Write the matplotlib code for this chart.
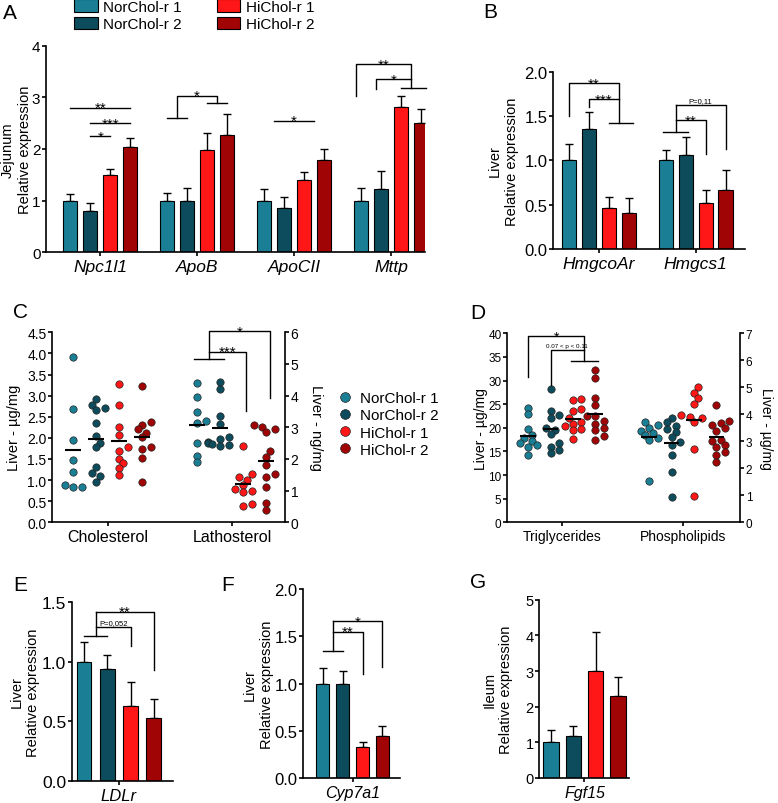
import numpy as np
import matplotlib
matplotlib.use('Agg')
import matplotlib.pyplot as plt
from matplotlib.patches import Patch
from matplotlib.lines import Line2D
from matplotlib.ticker import FormatStrFormatter

plt.rcParams['font.family'] = ['Liberation Sans', 'DejaVu Sans']
plt.rcParams['axes.linewidth'] = 1.2

W, H = 778, 804

groups = ['NorChol-r 1', 'NorChol-r 2', 'HiChol-r 1', 'HiChol-r 2']
colors = ['#1a7f95', '#0d4c5c', '#ff1616', '#a10404']

# A - jejunum, one row per group
genes_a = ['Npc1l1', 'ApoB', 'ApoCII', 'Mttp']
a_mean = [[1.0, 1.0, 1.0, 1.0],
          [0.80, 1.0, 0.85, 1.23],
          [1.50, 1.98, 1.40, 2.82],
          [2.04, 2.28, 1.78, 2.50]]
a_sem = [[0.13, 0.14, 0.22, 0.25],
         [0.15, 0.24, 0.22, 0.35],
         [0.12, 0.33, 0.15, 0.20],
         [0.18, 0.40, 0.22, 0.27]]

# B - liver
genes_b = ['HmgcoAr', 'Hmgcs1']
b_mean = [[1.0, 1.0], [1.35, 1.06], [0.46, 0.52], [0.41, 0.67]]
b_sem = [[0.19, 0.12], [0.19, 0.20], [0.13, 0.15], [0.17, 0.22]]

# C - sterols (cholesterol ug/mg, lathosterol ng/mg)
chol = [[3.92, 2.69, 1.95, 1.48, 1.20, 0.89, 0.83, 0.83],
        [2.92, 2.78, 2.70, 2.67, 2.35, 2.04, 1.88, 1.78, 1.30, 1.17, 1.09, 0.96],
        [3.28, 2.78, 2.25, 2.07, 1.78, 1.70, 1.50, 1.40, 1.28, 1.13],
        [3.24, 2.38, 2.31, 2.21, 2.12, 2.01, 1.78, 1.74, 1.52, 0.96]]
latho = [[4.40, 3.95, 3.48, 3.20, 3.15, 2.50, 2.10, 1.90],
         [4.42, 4.20, 3.35, 3.10, 2.70, 2.62, 2.55, 2.50, 2.48, 2.45, 2.40],
         [2.42, 1.53, 1.42, 1.35, 1.17, 1.05, 1.00, 0.97, 0.57, 0.50],
         [3.07, 3.00, 2.95, 2.85, 2.25, 2.07, 1.80, 1.53, 1.43, 1.12, 0.62, 0.39]]

# D - lipids (ug/mg)
tg = [[24.2, 22.9, 19.8, 18.5, 17.8, 17.2, 16.7, 16.3, 16.0, 14.2],
      [28.2, 23.6, 22.8, 22.0, 20.0, 19.5, 18.6, 16.8, 16.0, 15.3, 14.7],
      [26.1, 25.8, 24.0, 23.5, 22.0, 21.3, 20.8, 20.3, 19.8, 19.5, 17.7],
      [32.3, 30.5, 26.3, 24.8, 22.5, 22.4, 21.5, 20.8, 20.0, 19.5, 18.2, 17.5]]
pl = [[3.72, 3.62, 3.50, 3.40, 3.30, 3.22, 3.12, 3.05, 1.52],
      [3.88, 3.72, 3.58, 3.45, 3.35, 3.15, 2.98, 2.85, 2.50, 1.85, 0.95],
      [5.00, 4.78, 4.59, 4.38, 3.97, 3.89, 3.85, 3.70, 2.71, 0.99],
      [4.33, 3.75, 3.68, 3.60, 3.50, 3.40, 3.05, 3.00, 2.85, 2.78, 2.60, 2.50, 2.25]]

# E, F, G - single genes
e_mean = [1.0, 0.94, 0.63, 0.53]
e_sem = [0.17, 0.12, 0.20, 0.16]
f_mean = [1.0, 1.0, 0.33, 0.45]
f_sem = [0.17, 0.13, 0.05, 0.10]
g_mean = [1.0, 1.19, 3.0, 2.31]
g_sem = [0.35, 0.28, 1.10, 0.52]

OFF = np.array([-1.5, -0.5, 0.5, 1.5]) * 0.206   # bar offsets in a group
SOFF = np.array([-0.28, -0.095, 0.09, 0.275])     # dot column offsets
TL = 3  # tick length

fig = plt.figure(figsize=(W / 100, H / 100), dpi=100)


def make_ax(l, t, r, b):
    ax = fig.add_axes([l / W, 1 - b / H, (r - l) / W, (b - t) / H])
    ax.spines['top'].set_visible(False)
    ax.spines['right'].set_visible(False)
    return ax


def ylab(ax, text, px, fs, right=False):
    pos = ax.get_position()
    x = (px / W - pos.x0) / pos.width
    if right:
        ax.set_ylabel(text, fontsize=fs, rotation=270, va='bottom')
    else:
        ax.set_ylabel(text, fontsize=fs, linespacing=1.25)
    ax.yaxis.set_label_coords(x, 0.5)


def bar_panel(ax, genes, mean, sem, width, xlim, ymax, ystep, fmt, fs_y, fs_x):
    x = np.arange(len(genes))
    for i in range(4):
        ax.bar(x + OFF[i], mean[i], width, color=colors[i], edgecolor='black',
               linewidth=0.8, zorder=2)
        ax.errorbar(x + OFF[i], mean[i], yerr=[np.zeros(len(genes)), sem[i]],
                    fmt='none', ecolor='black', elinewidth=1, capsize=3,
                    capthick=1, zorder=1)
    ax.set_xlim(*xlim)
    ax.set_ylim(0, ymax)
    ax.set_yticks(np.arange(0, ymax + ystep / 2, ystep))
    ax.yaxis.set_major_formatter(FormatStrFormatter(fmt))
    ax.set_xticks(x)
    ax.set_xticklabels(genes, fontstyle='italic', fontsize=fs_x)
    ax.tick_params(axis='y', labelsize=fs_y, length=TL, width=1.2, pad=1)
    ax.tick_params(axis='x', length=TL, width=1.2, pad=2)


def path(ax, xs, ys):
    ax.plot(xs, ys, color='black', lw=1, clip_on=False, zorder=4)


def stars(ax, x, y, s, fs=11):
    ax.annotate(s, (x, y), xytext=(0, -3.2), textcoords='offset points',
                ha='center', va='baseline', fontsize=fs, annotation_clip=False)


def note(ax, x, y, s, fs=5.5):
    ax.annotate(s, (x, y), xytext=(0, 1.2), textcoords='offset points',
                ha='center', va='bottom', fontsize=fs, annotation_clip=False)


def swarm(ax, xc, vals, d=7.0):
    ppx = ax.transData.transform((1, 0))[0] - ax.transData.transform((0, 0))[0]
    ys = ax.transData.transform(np.column_stack([np.zeros(len(vals)), vals]))[:, 1]
    placed = []
    xs = np.zeros(len(vals))
    for i in np.argsort(ys):
        for k in [0, 1, -1, 2, -2, 3, -3]:
            dx = k * d * 0.6
            if all((dx - px) ** 2 + (ys[i] - py) ** 2 >= (d * 0.85) ** 2 for px, py in placed):
                break
        placed.append((dx, ys[i]))
        xs[i] = xc + dx / ppx
    return xs


def dots(ax, xc, vals, k):
    xs = swarm(ax, xc, vals)
    ax.scatter(xs, vals, s=28, color=colors[k], edgecolor='#222222', lw=0.5,
               zorder=2, clip_on=False)
    ax.hlines(np.mean(vals), xc - 0.065, xc + 0.065, color='black', lw=1.5, zorder=3)


def scatter_panel(ax, ax2, cats, left, right, fs_x):
    for k in range(4):
        dots(ax, SOFF[k], left[k], k)
        dots(ax2, 1 + SOFF[k], right[k], k)
    ax.set_xticks([0, 1])
    ax.set_xticklabels(cats, fontsize=fs_x)
    for s in ['top', 'left', 'bottom']:
        ax2.spines[s].set_visible(False)
    ax2.spines['right'].set_visible(True)


def letter(x, y, s):
    fig.text(x / W, 1 - y / H, s, fontsize=15, ha='left', va='top')


# ---------- A ----------
ax = make_ax(46, 46.7, 425, 253.3)
bar_panel(ax, genes_a, a_mean, a_sem, 0.145, (-0.56, 3.35), 4, 1, '%d', 11, 12.5)
ylab(ax, 'Jejunum\nRelative expression', 32, 10.5)
path(ax, [OFF[0], OFF[3]], [2.8, 2.8]); stars(ax, 0, 2.8, '**')
path(ax, [OFF[1], OFF[3]], [2.5, 2.5]); stars(ax, (OFF[1] + OFF[3]) / 2, 2.5, '***')
path(ax, [OFF[1], OFF[2]], [2.25, 2.25]); stars(ax, 0, 2.25, '*')
path(ax, [1 + OFF[0], 1 + OFF[1]], [2.6, 2.6])
path(ax, [0.794, 0.794, 1.206, 1.206], [2.6, 3.03, 3.03, 2.9])
path(ax, [1 + OFF[2], 1 + OFF[3]], [2.9, 2.9]); stars(ax, 1, 3.03, '*')
path(ax, [1.794, 2.206], [2.55, 2.55]); stars(ax, 2, 2.55, '*')
xl = 3 + OFF[0] - 0.05
path(ax, [xl, xl, 3.206, 3.206], [3.03, 3.64, 3.64, 3.19]); stars(ax, (xl + 3.206) / 2, 3.64, '**')
xl2 = 3 + OFF[1] - 0.05
path(ax, [xl2, xl2, 3.206], [3.17, 3.35, 3.35]); stars(ax, (xl2 + 3.206) / 2, 3.35, '*')
path(ax, [3 + OFF[2], 3 + OFF[3] + 0.05], [3.19, 3.19])
letter(3, 4, 'A')

fig.legend([Patch(facecolor=c, edgecolor='black', lw=0.8) for c in colors], groups,
           ncol=2, loc='upper left', bbox_to_anchor=(74 / W, 1.0), frameon=False,
           fontsize=11, handlelength=1.55, handleheight=0.9, handletextpad=0.35,
           columnspacing=2.3, labelspacing=0.2, borderpad=0, borderaxespad=0)

# ---------- B ----------
ax = make_ax(553, 72.7, 745, 250)
bar_panel(ax, genes_b, b_mean, b_sem, 0.145, (-0.47, 1.51), 2.0, 0.5, '%.1f', 12, 12.5)
ylab(ax, 'Liver\nRelative expression', 519, 10.5)
path(ax, [OFF[0], OFF[0], 0.206, 0.206], [1.5, 1.87, 1.87, 1.42]); stars(ax, (OFF[0] + 0.206) / 2, 1.87, '**')
path(ax, [OFF[1], OFF[1], 0.206], [1.6, 1.69, 1.69]); stars(ax, (OFF[1] + 0.206) / 2, 1.69, '***')
path(ax, [OFF[2], OFF[3] + 0.05], [1.42, 1.42])
path(ax, [1 + OFF[0] - 0.03, 1 + OFF[1] + 0.03], [1.32, 1.32])
path(ax, [0.794, 0.794], [1.32, 1.62])
path(ax, [0.794, 1 + OFF[2], 1 + OFF[2]], [1.45, 1.45, 1.07]); stars(ax, (0.794 + 1 + OFF[2]) / 2, 1.45, '**')
path(ax, [0.794, 1 + OFF[3], 1 + OFF[3]], [1.62, 1.62, 1.13]); note(ax, (0.794 + 1 + OFF[3]) / 2, 1.62, 'P=0,11')
letter(483, 3, 'B')

# ---------- C ----------
ax = make_ax(52, 333.3, 285, 523.3)
ax2 = ax.twinx()
ax.set_xlim(-0.452, 1.427)
ax.set_ylim(0, 4.5)
ax2.set_ylim(0, 6)
ax.set_yticks(np.arange(0, 4.6, 0.5))
ax.yaxis.set_major_formatter(FormatStrFormatter('%.1f'))
ax2.set_yticks(np.arange(0, 7, 1))
scatter_panel(ax, ax2, ['Cholesterol', 'Lathosterol'], chol, latho, 11.5)
ax.tick_params(axis='y', labelsize=10, length=TL, width=1.2, pad=1)
ax.tick_params(axis='x', length=TL, width=1.2, pad=2)
ax2.tick_params(axis='y', labelsize=10, length=TL, width=1.2, pad=1)
ylab(ax, 'Liver - µg/mg', 21, 10.5)
ylab(ax2, 'Liver - ng/mg', 309, 10.5, right=True)
nc = 1 + (SOFF[0] + SOFF[1]) / 2
path(ax2, [1 + SOFF[0] - 0.03, 1 + SOFF[1] + 0.03], [5.17, 5.17])
path(ax2, [nc, nc, 1.305, 1.305], [5.17, 6.04, 6.04, 3.94]); stars(ax2, (nc + 1.305) / 2, 6.04, '*')
path(ax2, [nc, 1.11, 1.11], [5.39, 5.39, 3.52]); stars(ax2, (nc + 1.11) / 2, 5.39, '***')
letter(13, 303, 'C')

fig.legend([Line2D([], [], marker='o', ls='', markersize=7, markerfacecolor=c,
                   markeredgecolor='#222222', markeredgewidth=0.5) for c in colors],
           groups, loc='center left', bbox_to_anchor=(337 / W, 1 - 425 / H),
           frameon=False, fontsize=11, handlelength=1.0, handletextpad=0.5,
           labelspacing=0.2, borderpad=0, borderaxespad=0)

# ---------- D ----------
ax = make_ax(507, 334.3, 740, 523.3)
ax2 = ax.twinx()
ax.set_xlim(-0.455, 1.47)
ax.set_ylim(0, 40)
ax2.set_ylim(0, 7)
ax.set_yticks(np.arange(0, 41, 5))
ax2.set_yticks(np.arange(0, 8, 1))
scatter_panel(ax, ax2, ['Triglycerides', 'Phospholipids'], tg, pl, 10)
ax.tick_params(axis='y', labelsize=8.5, length=TL, width=1.2, pad=1)
ax.tick_params(axis='x', length=TL, width=1.2, pad=2)
ax2.tick_params(axis='y', labelsize=8.5, length=TL, width=1.2, pad=1)
ylab(ax, 'Liver - µg/mg', 488, 10)
ylab(ax2, 'Liver - µg/mg', 759, 10, right=True)
hc = (SOFF[2] + SOFF[3]) / 2
path(ax, [SOFF[0], SOFF[0], hc, hc], [30.7, 39.4, 39.4, 34.1]); stars(ax, (SOFF[0] + hc) / 2, 39.4, '*', fs=10)
path(ax, [SOFF[1], SOFF[1], hc], [29.1, 36.5, 36.5]); note(ax, (SOFF[1] + hc) / 2, 36.5, '0.07 < p < 0.11', fs=4.5)
path(ax, [SOFF[2] - 0.02, SOFF[3] + 0.02], [34.1, 34.1])
letter(470, 304, 'D')

# ---------- E ----------
ax = make_ax(71.7, 603.3, 173, 781.7)
bar_panel(ax, ['LDLr'], [[v] for v in e_mean], [[v] for v in e_sem], 0.129,
          (-0.42, 0.48), 1.5, 0.5, '%.1f', 12.5, 12)
ylab(ax, 'Liver\nRelative expression', 40, 10.5)
path(ax, [OFF[0], OFF[1]], [1.22, 1.22])
path(ax, [-0.206, -0.206], [1.22, 1.42])
path(ax, [-0.206, OFF[3], OFF[3]], [1.42, 1.42, 0.93]); stars(ax, (OFF[3] - 0.206) / 2, 1.42, '**')
path(ax, [-0.206, OFF[2], OFF[2]], [1.29, 1.29, 1.13]); note(ax, (OFF[2] - 0.206) / 2, 1.29, 'P=0,052')
letter(13, 576, 'E')

# ---------- F ----------
ax = make_ax(303.3, 590, 400, 779.3)
bar_panel(ax, ['Cyp7a1'], [[v] for v in f_mean], [[v] for v in f_sem], 0.137,
          (-0.51, 0.49), 2.0, 0.5, '%.1f', 12, 11.5)
ylab(ax, 'Liver\nRelative expression', 274, 10.5)
path(ax, [OFF[0], OFF[1]], [1.35, 1.35])
path(ax, [-0.206, -0.206], [1.35, 1.66])
path(ax, [-0.206, OFF[2], OFF[2]], [1.55, 1.55, 1.1]); stars(ax, (OFF[2] - 0.206) / 2, 1.55, '**')
path(ax, [-0.206, OFF[3], OFF[3]], [1.66, 1.66, 1.18]); stars(ax, (OFF[3] - 0.206) / 2, 1.66, '*')
letter(221, 576, 'F')

# ---------- G ----------
ax = make_ax(539.3, 600.7, 629.3, 779)
bar_panel(ax, ['Fgf15'], [[v] for v in g_mean], [[v] for v in g_sem], 0.143,
          (-0.417, 0.414), 5, 1, '%d', 10.5, 11.5)
ylab(ax, 'Ileum\nRelative expression', 513, 10.5)
letter(470, 573, 'G')

fig.savefig('out.png', dpi=100)
